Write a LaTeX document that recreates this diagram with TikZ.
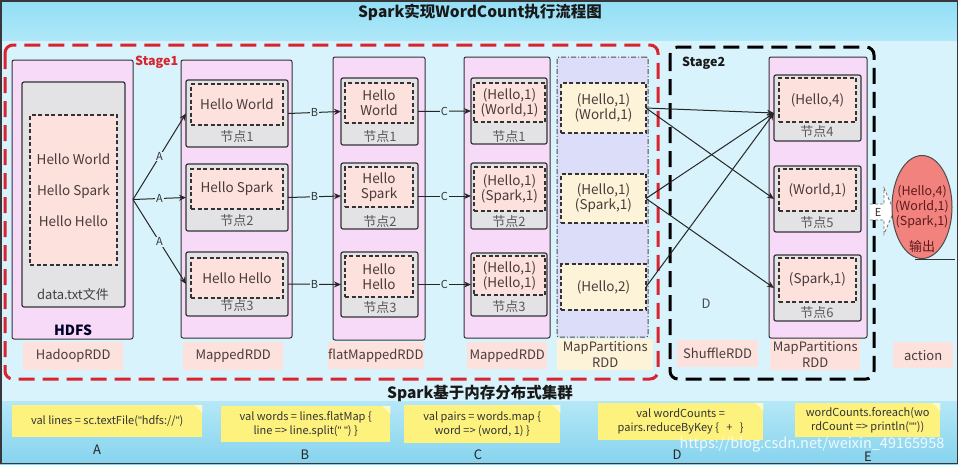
\documentclass[tikz,border=0pt]{standalone}
\usepackage{fontspec}
\setmainfont{Noto Sans CJK SC}
\newfontfamily\qfont{Liberation Sans}
\newcommand\dq{{\qfont"}}
\usetikzlibrary{arrows.meta,shapes.geometric}
\definecolor{bgmid}{HTML}{D8F3FB}
\definecolor{bgtopa}{HTML}{93DEF5}
\definecolor{bgtopb}{HTML}{AEE8F9}
\definecolor{bgbota}{HTML}{B5E8F7}
\definecolor{bgbotb}{HTML}{86D3EE}
\definecolor{colpink}{HTML}{F7DAF8}
\definecolor{nodegray}{HTML}{E3E3E5}
\definecolor{peach}{HTML}{FCE1DD}
\definecolor{cream}{HTML}{FDF3D9}
\definecolor{lav}{HTML}{DCDDF8}
\definecolor{stagered}{HTML}{D8242E}
\definecolor{notey}{HTML}{FDF27E}
\definecolor{txt}{HTML}{4A3B3B}
\definecolor{outred}{HTML}{F2827E}
\definecolor{outtxt}{HTML}{5A1A1A}
\newcommand\mkbox[7]{\node[#1,minimum width=#5pt,minimum height=#6pt] (#2) at (#3,#4) {#7};}
\newcommand\fs[2]{\fontsize{#1}{#2}\selectfont}
\tikzset{
  box/.style={anchor=north west, inner sep=0pt, outer sep=0pt, draw=black!80, line width=1pt, rounded corners=2pt},
  col/.style={box, fill=colpink},
  nd/.style={box, fill=nodegray, line width=1.2pt},
  inn/.style={box, fill=peach, dash pattern=on 4pt off 2.5pt, line width=1.3pt, rounded corners=0pt, text=txt, font=\fs{13.5}{15}, align=center},
  innc/.style={inn, fill=cream},
  rddlab/.style={anchor=north west, inner sep=0pt, fill=peach, text=txt, font=\fs{13}{16}, align=center},
  ndlab/.style={text=black!65, font=\fs{13}{15}},
  conn/.style={line width=1pt, draw=black!85, -{Stealth[length=7pt,width=6pt]}},
  clab/.style={fill=bgmid, inner sep=0.8pt, font=\fs{11}{12}, text=black!80},
  note/.style={anchor=north west, inner sep=0pt, fill=notey, text=black!80, font=\fs{11}{14}, align=center},
  letter/.style={font=\fs{13}{15}, text=black!85},
  stagebox/.style={line width=3pt, dash pattern=on 16pt off 8pt, rounded corners=8pt},
}
\begin{document}
\begin{tikzpicture}[x=1pt,y=-1pt]
\useasboundingbox (0,0) rectangle (958,464);
% background
\fill[bgmid] (0,0) rectangle (958,464);
\shade[top color=bgtopa, bottom color=bgtopb] (0,0) rectangle (958,40);
\shade[top color=bgbota, bottom color=bgbotb] (0,401) rectangle (958,464);
\draw[black!70!cyan!40!black, line width=1.5pt] (0.75,0.75) rectangle (957.25,463.25);
% titles
\node[font=\bfseries\fs{15.5}{18}, text=black!90] (title) at (480,12) {Spark实现WordCount执行流程图};
\node[font=\bfseries\fs{15.5}{18}, text=black!90] (sub) at (480,393) {Spark基于内存分布式集群};
% stages
\draw[stagered, stagebox] (5,45) rectangle (658,379);
\draw[black, stagebox] (670,47) rectangle (874,379);
\node[anchor=west, font=\bfseries\fs{12.5}{14}, text=stagered, inner sep=0pt] (s1) at (135,62) {Stage1};
\node[anchor=west, font=\bfseries\fs{12.5}{14}, text=black!90, inner sep=0pt] (s2) at (682,63) {Stage2};
% HDFS
\mkbox{col}{hdfs}{12}{60}{121}{279}{}
\mkbox{nd}{file}{22}{82}{103}{225}{}
\mkbox{inn}{lines}{30}{115}{87}{150}{Hello World\\[16pt]Hello Spark\\[16pt]Hello Hello}
\node[ndlab, text=black!75] (ftxt) at (73,295) {data.txt文件};
\node[font=\bfseries\fs{14}{16}, text=black!85!blue] (hdfslab) at (73,330) {HDFS};
\mkbox{rddlab}{l1}{23}{342}{100}{28}{HadoopRDD}
% MappedRDD
\mkbox{col}{m1}{181}{60}{111}{278}{}
\mkbox{nd}{m1n1}{186}{80}{102}{67}{}
\mkbox{inn}{m1i1}{191}{84}{92}{41}{Hello World}
\node[ndlab] (m1t1) at (237,137) {节点1};
\mkbox{nd}{m1n2}{186}{164}{102}{67}{}
\mkbox{inn}{m1i2}{191}{169}{92}{40}{Hello Spark}
\node[ndlab] (m1t2) at (237,221) {节点2};
\mkbox{nd}{m1n3}{186}{252}{102}{64}{}
\mkbox{inn}{m1i3}{191}{258}{92}{40}{Hello Hello}
\node[ndlab] (m1t3) at (237,306) {节点3};
\mkbox{rddlab}{l2}{183}{342}{100}{28}{MappedRDD}
% flatMappedRDD
\mkbox{col}{f}{333}{57}{92}{283}{}
\mkbox{nd}{fn1}{341}{78}{77}{67}{}
\mkbox{inn}{fi1}{345}{83}{68}{40}{Hello\\World}
\node[ndlab] (ft1) at (380,137) {节点1};
\mkbox{nd}{fn2}{341}{163}{77}{66}{}
\mkbox{inn}{fi2}{345}{167}{68}{40}{Hello\\Spark}
\node[ndlab] (ft2) at (380,222) {节点2};
\mkbox{nd}{fn3}{341}{252}{77}{65}{}
\mkbox{inn}{fi3}{345}{256}{68}{41}{Hello\\Hello}
\node[ndlab] (ft3) at (380,308) {节点3};
\mkbox{rddlab}{l3}{328}{342}{95}{27}{flatMappedRDD}
% MappedRDD 2
\mkbox{col}{m2}{464}{57}{86}{281}{}
\mkbox{nd}{m2n1}{471}{78}{76}{66}{}
\mkbox{inn}{m2i1}{474}{83}{71}{39}{(Hello,1)\\(World,1)}
\node[ndlab] (m2t1) at (509,137) {节点1};
\mkbox{nd}{m2n2}{471}{163}{76}{66}{}
\mkbox{inn}{m2i2}{474}{167}{71}{44}{(Hello,1)\\(Spark,1)}
\node[ndlab] (m2t2) at (509,222) {节点2};
\mkbox{nd}{m2n3}{471}{253}{76}{63}{}
\mkbox{inn}{m2i3}{474}{256}{71}{39}{(Hello,1)\\(Hello,1)}
\node[ndlab] (m2t3) at (509,307) {节点3};
\mkbox{rddlab}{l4}{467}{342}{80}{27}{MappedRDD}
% MapPartitions (stage 1)
\mkbox{box, fill=lav, draw=black!70, dash pattern=on 5pt off 2pt on 1pt off 2pt, rounded corners=2pt}{mp}{557}{57}{91}{280}{}
\mkbox{innc}{p1}{561}{83}{85}{50}{(Hello,1)\\(World,1)}
\mkbox{innc}{p2}{561}{174}{85}{49}{(Hello,1)\\(Spark,1)}
\mkbox{innc}{p3}{561}{264}{85}{46}{(Hello,2)}
\mkbox{rddlab, fill=cream}{l5}{557}{339}{96}{31}{MapPartitions\\RDD}
% Stage 2
\mkbox{col}{m3}{769}{57}{98}{281}{}
\mkbox{nd}{n4}{774}{75}{87}{66}{}
\mkbox{inn}{i4}{779}{78}{77}{44}{(Hello,4)}
\node[ndlab] (t4l) at (817,132) {节点4};
\mkbox{nd}{n5}{774}{166}{87}{66}{}
\mkbox{inn}{i5}{779}{169}{77}{42}{(World,1)}
\node[ndlab] (t5l) at (817,223) {节点5};
\mkbox{nd}{n6}{774}{255}{87}{66}{}
\mkbox{inn}{i6}{779}{258}{77}{44}{(Spark,1)}
\node[ndlab] (t6l) at (817,313) {节点6};
\mkbox{rddlab}{l6}{770}{339}{90}{31}{MapPartitions\\RDD}
\mkbox{rddlab}{l7}{677}{340}{81}{27}{ShuffleRDD}
\mkbox{rddlab}{l8}{893}{342}{60}{26}{action}
\node[letter, text=black!70] (dl) at (706,304) {D};
% connectors A
\draw[conn] (hdfs.east) -- node[clab]{A} (m1n1.west);
\draw[conn] (hdfs.east) -- node[clab]{A} (m1n2.west);
\draw[conn] (hdfs.east) -- node[clab]{A} (m1n3.west);
% B
\draw[conn] (m1n1.east) -- node[clab]{B} (fn1.west);
\draw[conn] (m1n2.east) -- node[clab]{B} (fn2.west);
\draw[conn] (m1n3.east) -- node[clab]{B} (fn3.west);
% C
\draw[conn] (fn1.east) -- node[clab]{C} (m2n1.west);
\draw[conn] (fn2.east) -- node[clab]{C} (m2n2.west);
\draw[conn] (fn3.east) -- node[clab]{C} (m2n3.west);
% shuffle
\coordinate (t4) at (774,113);
\draw[conn] (p1.east) -- (t4);
\draw[conn] (p1.east) -- (n5.west);
\draw[conn] (p2.east) -- (t4);
\draw[conn] (p2.east) -- (n6.west);
\draw[conn] (p3.east) -- (t4);
% E block arrow
\fill[white] (870,204) rectangle (885,220);
\fill[white] (884,188) -- (894,211) -- (884,234) -- cycle;
\draw[black!55, line width=0.8pt, dash pattern=on 3pt off 2pt] (870,204) -- (884,204) -- (884,188) -- (894,211) -- (884,234) -- (884,220) -- (870,220);
\node[font=\fs{11}{12}, text=black!80, inner sep=0pt] (el) at (878,212) {E};
% output
\node[ellipse, fill=outred, draw=black!70, line width=1pt, minimum width=60pt, minimum height=103pt, inner sep=0pt] (out) at (922,207) {};
\node[font=\fs{12.5}{15}, text=outtxt, align=center] (outt) at (922,207) {(Hello,4)\\(World,1)\\(Spark,1)};
\node[font=\fs{13}{15}, text=outtxt] (outl) at (922,247) {输出};
\draw[black!80, line width=1pt] (915,259) -- (955,259);
% notes
\mkbox{note}{na}{12}{405}{190}{32}{val lines = sc.textFile(\dq hdfs://\dq)}
\mkbox{note}{nb}{221}{406}{169}{36}{val words = lines.flatMap \{\\line => line.split(\dq\ \dq) \}}
\mkbox{note}{nc}{404}{405}{156}{38}{val pairs = words.map \{\\word => (word, 1) \}}
\mkbox{note}{nd}{598}{403}{165}{37}{val wordCounts =\\pairs.reduceByKey \{\ \ \ +\ \ \ \}}
\mkbox{note}{ne}{795}{403}{145}{34}{wordCounts.foreach(wo\\rdCount => println(\dq\dq))}
\foreach \n in {na,nb,nc,nd,ne}{
  \fill[notey!45!white] ([xshift=-8pt]\n.north east) -- (\n.north east) -- ([yshift=-8pt]\n.north east) -- cycle;
}
\node[letter] (la) at (97,450) {A};
\node[letter] (lb) at (305,455) {B};
\node[letter] (lc) at (478,455) {C};
\node[letter] (ld) at (677,455) {D};
\node[letter] (le) at (868,457) {E};
\node[font=\fs{14.5}{16}, text=white, opacity=0.85] (wm) at (812,445) {https://blog.csdn.net/weixin\_49165958};
\end{tikzpicture}
\end{document}
